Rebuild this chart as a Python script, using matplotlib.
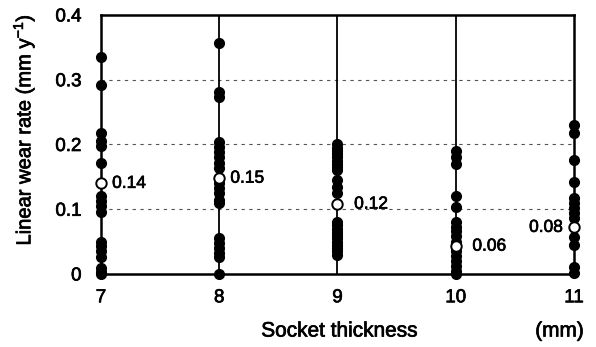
import matplotlib
matplotlib.use("Agg")
import matplotlib.pyplot as plt
import matplotlib.patheffects as pe
import numpy as np

plt.rcParams['font.family'] = ['Liberation Sans', 'DejaVu Sans']
plt.rcParams['mathtext.fontset'] = 'custom'
plt.rcParams['mathtext.rm'] = 'Liberation Sans'
plt.rcParams['mathtext.it'] = 'Liberation Sans:italic'

thickness = [7, 8, 9, 10, 11]
wear_7 = [0.335, 0.292, 0.218, 0.205, 0.198, 0.171, 0.12, 0.112, 0.105, 0.095,
          0.05, 0.043, 0.035, 0.027, 0.01, 0.003, 0.0]
wear_8 = [0.357, 0.281, 0.273, 0.204, 0.196, 0.188, 0.181, 0.171, 0.164, 0.141,
          0.133, 0.125, 0.114, 0.110, 0.056, 0.048, 0.040, 0.032, 0.026, 0.0]
wear_9 = [0.20, 0.195, 0.19, 0.185, 0.18, 0.175, 0.17, 0.165, 0.16, 0.145, 0.135,
          0.125, 0.08, 0.075, 0.07, 0.065, 0.06, 0.055, 0.05, 0.045, 0.04, 0.035, 0.03]
wear_10 = [0.19, 0.18, 0.17, 0.12, 0.103, 0.08, 0.073, 0.066, 0.058, 0.05, 0.035,
           0.028, 0.02, 0.012, 0.005, 0.0]
wear_11 = [0.23, 0.218, 0.176, 0.142, 0.117, 0.11, 0.102, 0.094, 0.086, 0.057,
           0.045, 0.011, 0.002]
mean_values = [0.14, 0.148, 0.108, 0.043, 0.072]
mean_labels = ["0.14", "0.15", "0.12", "0.06", "0.08"]
y_ticks = [0, 0.1, 0.2, 0.3, 0.4]
y_tick_labels = ["0", "0.1", "0.2", "0.3", "0.4"]

all_wear = [wear_7, wear_8, wear_9, wear_10, wear_11]

thick = [pe.withStroke(linewidth=0.5, foreground='black')]

fig = plt.figure(figsize=(5.96, 3.47), dpi=100)
ax = fig.add_axes([0.1695, 0.2104, 0.7935, 0.7464])

ax.set_xlim(7, 11)
ax.set_ylim(0, 0.4)

for yv in [0.1, 0.2, 0.3]:
    ax.axhline(yv, color='#555555', lw=0.8, ls=(0, (3, 4)), zorder=1)
for xv in thickness[1:-1]:
    ax.axvline(xv, color='black', lw=1.3, zorder=1)

for x, w in zip(thickness, all_wear):
    ax.plot([x] * len(w), w, 'o', color='black', ms=7, clip_on=False, zorder=3)

ax.plot(thickness, mean_values, 'o', mfc='white', mec='black', mew=1.4, ms=7.5,
        ls='none', clip_on=False, zorder=4)

offsets = [(8, 0), (8, 0), (12, 0), (12, 0), (-8, 0)]
for x, v, lab, off in zip(thickness, mean_values, mean_labels, offsets):
    ha = 'left' if off[0] > 0 else 'right'
    ax.annotate(lab, (x, v), xytext=off, textcoords='offset points',
                ha=ha, va='center', fontsize=12.5, path_effects=thick)

for s in ax.spines.values():
    s.set_linewidth(1.8)

ax.set_xticks(thickness)
ax.set_xticklabels([str(t) for t in thickness], fontsize=13.5)
ax.set_yticks(y_ticks)
ax.set_yticklabels(y_tick_labels, fontsize=13.5)
for t in ax.get_xticklabels() + ax.get_yticklabels():
    t.set_path_effects(thick)
ax.tick_params(length=0)
ax.tick_params(axis='y', pad=14)
ax.tick_params(axis='x', pad=11)

ylab = ax.set_ylabel(r'Linear wear rate (mm y$^{\mathregular{-1}}$)', fontsize=14.5,
                     path_effects=thick)
ax.yaxis.set_label_coords(-0.136, 0.556)
fig.text(0.57, 0.046, 'Socket thickness', ha='center', va='center', fontsize=15,
         path_effects=thick)
fig.text(0.98, 0.046, '(mm)', ha='right', va='center', fontsize=15,
         path_effects=thick)

fig.savefig('out.png', dpi=100)
